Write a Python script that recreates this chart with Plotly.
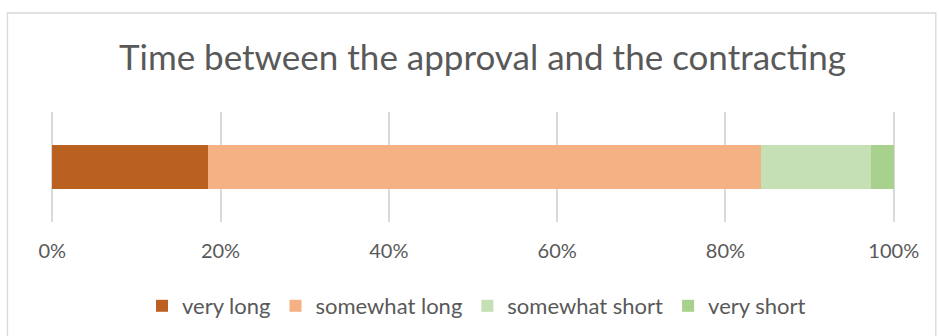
import plotly.graph_objects as go

# Share of responses per answer category (percent of total)
categories = ["very long", "somewhat long", "somewhat short", "very short"]
shares = [18.5, 65.7, 13.1, 2.7]
colors = ["#BA6122", "#F4B183", "#C5E0B4", "#A9D18E"]
row_label = [""]
tick_vals = [0, 20, 40, 60, 80, 100]
tick_text = ["0%", "20%", "40%", "60%", "80%", "100%"]

W, H = 939, 336
FONT = "Lato, Carlito, Calibri, sans-serif"
GREY = "#595959"

# pixel layout of the value axis: 0% at x=52.7, 100% at x=894
X0_PX, X100_PX = 52.7, 894.0
PAD = 0.5  # small range padding so the 0% and 100% gridlines are drawn
ppu = (X100_PX - X0_PX) / 100.0
left_m = X0_PX - PAD * ppu
right_m = W - (X100_PX + PAD * ppu)
plot_w = W - left_m - right_m

fig = go.Figure()
for name, val, col in zip(categories, shares, colors):
    fig.add_trace(go.Bar(
        x=[val], y=row_label, name=name, orientation="h",
        marker=dict(color=col, line=dict(width=0)),
        hoverinfo="name+x",
    ))

fig.update_layout(
    width=W, height=H,
    barmode="stack",
    bargap=0.6,
    paper_bgcolor="white",
    plot_bgcolor="white",
    margin=dict(l=left_m, r=right_m, t=112, b=114, autoexpand=False),
    font=dict(family=FONT, color=GREY, size=20),
    title=dict(
        text="Time between the approval and the contracting",
        font=dict(family=FONT, size=35, color=GREY),
        x=(122 + 843) / 2 / W, xanchor="center", xref="container",
        y=1 - 58 / H, yanchor="middle", yref="container",
    ),
    xaxis=dict(
        range=[-PAD, 100 + PAD], tickvals=tick_vals, ticktext=tick_text,
        showgrid=True, gridcolor="#D9D9D9", gridwidth=1.5,
        zeroline=False, showline=False, ticks="",
        ticklabelstandoff=15,
        tickfont=dict(family=FONT, size=20, color=GREY),
        fixedrange=True,
    ),
    yaxis=dict(showticklabels=False, showgrid=False, zeroline=False,
               fixedrange=True),
    legend=dict(
        orientation="h", traceorder="normal",
        x=142 / W, xanchor="left", xref="container",
        y=1 - 306 / H, yanchor="middle", yref="container",
        font=dict(family=FONT, size=22, color=GREY),
        itemclick=False, itemdoubleclick=False,
    ),
    shapes=[dict(
        type="rect", xref="paper", yref="paper",
        x0=(8 - left_m) / plot_w, x1=(936 - left_m) / plot_w,
        y0=-120 / 110, y1=1 + 99 / 110,
        line=dict(color="#D9D9D9", width=1.3), fillcolor="rgba(0,0,0,0)",
        layer="below",
    )],
)

fig.write_html("out.html", config={"displayModeBar": False})
